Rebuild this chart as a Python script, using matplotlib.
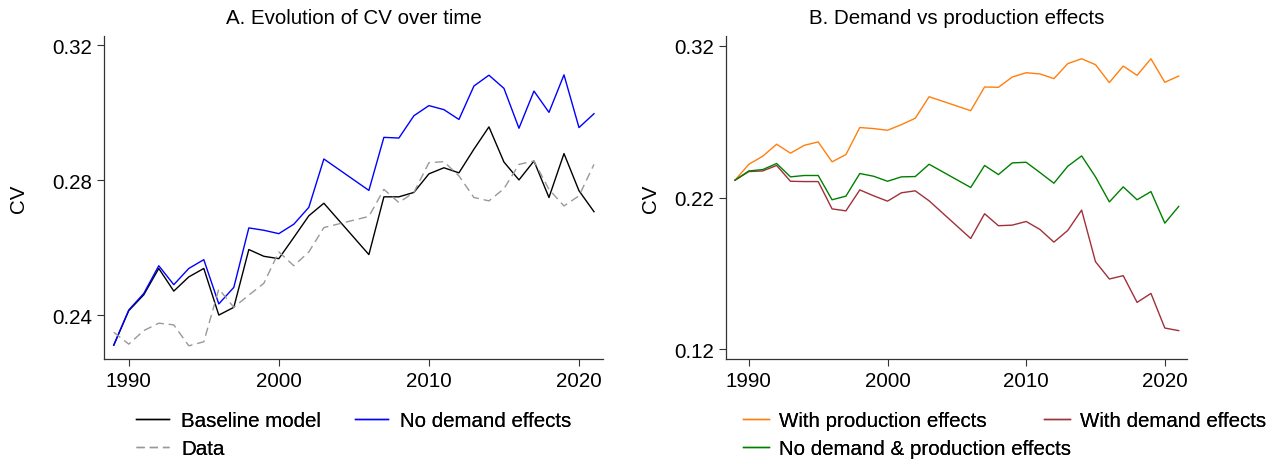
import matplotlib.pyplot as plt
import numpy as np

plt.rcParams['font.family'] = ['Liberation Sans', 'DejaVu Sans']

# years (2004-2005 have no observations, lines are joined straight across)
years = [1989, 1990, 1991, 1992, 1993, 1994, 1995, 1996, 1997, 1998, 1999,
         2000, 2001, 2002, 2003, 2006, 2007, 2008, 2009, 2010, 2011, 2012,
         2013, 2014, 2015, 2016, 2017, 2018, 2019, 2020, 2021]

# Panel A
baseline = [0.2312, 0.2414, 0.2461, 0.2539, 0.2472, 0.2514, 0.2539, 0.2401,
            0.2424, 0.2595, 0.2575, 0.2568, 0.2631, 0.2695, 0.2732, 0.2580,
            0.2751, 0.2751, 0.2764, 0.2819, 0.2837, 0.2822, 0.2892, 0.2958,
            0.2854, 0.2801, 0.2857, 0.2749, 0.2879, 0.2769, 0.2707]
no_demand = [0.2312, 0.2416, 0.2465, 0.2547, 0.2491, 0.2539, 0.2565, 0.2434,
             0.2483, 0.2659, 0.2652, 0.2642, 0.2670, 0.2720, 0.2863, 0.2770,
             0.2927, 0.2925, 0.2991, 0.3021, 0.3009, 0.2980, 0.3079, 0.3111,
             0.3072, 0.2954, 0.3064, 0.3001, 0.3112, 0.2956, 0.2997]
data = [0.2350, 0.2315, 0.2355, 0.2377, 0.2372, 0.2310, 0.2322, 0.2478,
        0.2424, 0.2460, 0.2495, 0.2588, 0.2547, 0.2588, 0.2660, 0.2693,
        0.2773, 0.2734, 0.2764, 0.2852, 0.2855, 0.2813, 0.2749, 0.2739,
        0.2775, 0.2847, 0.2857, 0.2773, 0.2724, 0.2754, 0.2847]

# Panel B
with_prod = [0.2314, 0.2419, 0.2472, 0.2551, 0.2492, 0.2544, 0.2566, 0.2435,
             0.2483, 0.2661, 0.2654, 0.2643, 0.2680, 0.2722, 0.2864, 0.2772,
             0.2928, 0.2926, 0.2994, 0.3022, 0.3014, 0.2983, 0.3082, 0.3114,
             0.3075, 0.2957, 0.3066, 0.3005, 0.3114, 0.2959, 0.3000]
with_demand = [0.2314, 0.2371, 0.2375, 0.2411, 0.2307, 0.2305, 0.2305, 0.2125,
               0.2112, 0.2250, 0.2211, 0.2176, 0.2231, 0.2244, 0.2178, 0.1930,
               0.2093, 0.2014, 0.2018, 0.2042, 0.1989, 0.1906, 0.1983, 0.2117,
               0.1777, 0.1663, 0.1685, 0.1509, 0.1568, 0.1340, 0.1323]
no_both = [0.2314, 0.2375, 0.2384, 0.2424, 0.2336, 0.2345, 0.2345, 0.2185,
           0.2209, 0.2358, 0.2340, 0.2307, 0.2336, 0.2338, 0.2419, 0.2266,
           0.2411, 0.2351, 0.2428, 0.2432, 0.2364, 0.2294, 0.2406, 0.2474,
           0.2336, 0.2171, 0.2270, 0.2185, 0.2239, 0.2031, 0.2141]

FS = 14.8
FS_PX = FS * 100 / 72
W, H = 1272, 464
lw = 1.0

fig = plt.figure(figsize=(W / 100, H / 100), dpi=100)
ax1 = fig.add_axes([104 / W, 1 - 360 / H, 499 / W, 323 / H])
ax2 = fig.add_axes([726 / W, 1 - 360 / H, 461 / W, 323 / H])

l_base, = ax1.plot(years, baseline, color='black', lw=lw, label='Baseline model')
l_nod, = ax1.plot(years, no_demand, color='#0000ff', lw=lw, label='No demand effects')
l_data, = ax1.plot(years, data, color='#999999', lw=lw, ls=(0, (6, 3.5)), label='Data')
ax1.set_ylim(0.2271, 0.3227)
ax1.set_yticks([0.24, 0.28, 0.32])
ax1.set_yticklabels(['0.24', '0.28', '0.32'])
ax1.set_title('A. Evolution of CV over time', fontsize=FS, pad=9)

l_prod, = ax2.plot(years, with_prod, color='#ff7f0e', lw=lw, label='With production effects')
l_dem, = ax2.plot(years, with_demand, color='#a0303a', lw=lw, label='With demand effects')
l_both, = ax2.plot(years, no_both, color='#008000', lw=lw, label='No demand & production effects')
ax2.set_ylim(0.1136, 0.3264)
ax2.set_yticks([0.12, 0.22, 0.32])
ax2.set_yticklabels(['0.12', '0.22', '0.32'])
ax2.set_title('B. Demand vs production effects', fontsize=FS, pad=9)

for ax, lx in ((ax1, -0.152), (ax2, -0.143)):
    ax.set_xlim(1988.35, 2021.6)
    ax.set_xticks([1990, 2000, 2010, 2020])
    ax.set_ylabel('CV', fontsize=FS)
    ax.yaxis.set_label_coords(lx, 0.5)
    ax.tick_params(labelsize=FS, direction='out', length=5, width=0.8, color='#333333')
    ax.spines['top'].set_visible(False)
    ax.spines['right'].set_visible(False)
    for s in ('left', 'bottom'):
        ax.spines[s].set_color('#333333')
        ax.spines[s].set_linewidth(0.9)


# legend columns placed by pixel position (Stata-style columns can overlap)
def legend_col(handles, x, y, hlen, gap):
    leg = fig.legend(handles=handles, loc='upper left',
                     bbox_to_anchor=(x / W, 1 - y / H), frameon=False,
                     fontsize=FS, borderpad=0, borderaxespad=0,
                     handlelength=hlen / FS_PX, handletextpad=gap / FS_PX,
                     labelspacing=0.46)
    fig.add_artist(leg)


legend_col([l_base, l_data], 136, 412, 33, 12)
legend_col([l_nod], 355, 412, 33, 12)
legend_col([l_prod, l_both], 743, 412, 26, 10)
legend_col([l_dem], 1044, 412, 26, 10)

fig.savefig('out.png', dpi=100)
